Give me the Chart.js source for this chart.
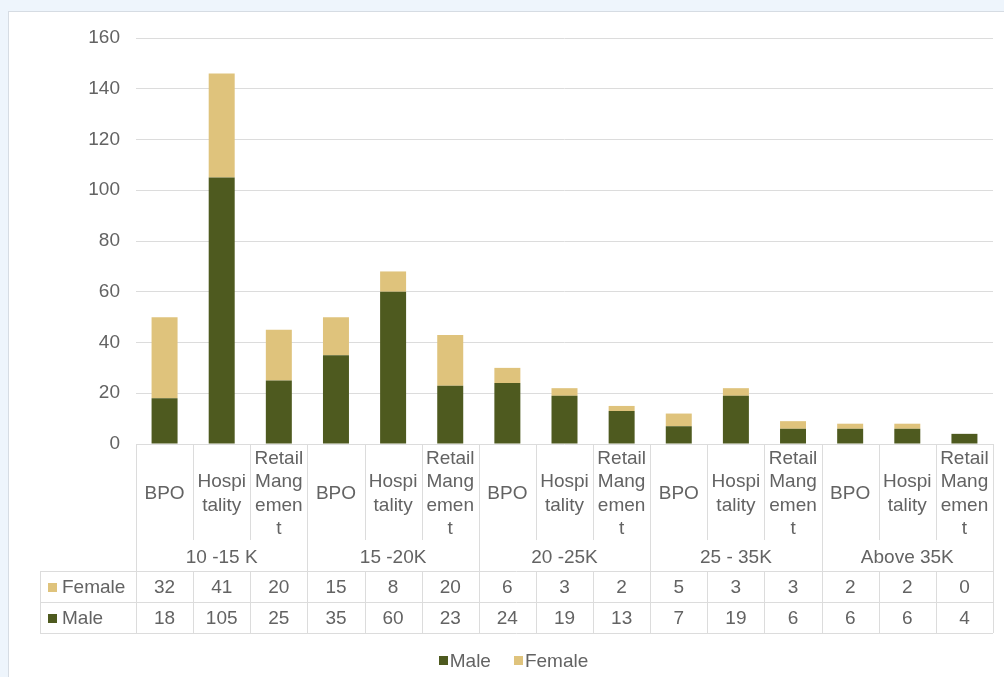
<!DOCTYPE html>
<html>
<head>
<meta charset="utf-8">
<title>Salary bands by sector and gender</title>
<script src="https://cdn.jsdelivr.net/npm/chart.js@4.4.1/dist/chart.umd.min.js"></script>
<style>
  html, body { margin: 0; padding: 0; width: 1004px; height: 677px; overflow: hidden; background: #eef5fc; }
  #card { position: absolute; left: 8px; top: 11px; width: 1100px; height: 800px; background: #ffffff;
          border: 1px solid #d6dce3; box-sizing: border-box; }
  #wrap { position: absolute; left: 0; top: 0; width: 1004px; height: 677px; }
</style>
</head>
<body>
<div id="card"></div>
<div id="wrap"><canvas id="chart" width="1004" height="677"></canvas></div>
<script>
// Salary bands (outer category) and sectors (inner category, wrapped as in the table)
const salaryBands = ['10 -15 K', '15 -20K', '20 -25K', '25 - 35K', 'Above 35K'];
const sectorLines = [['BPO'], ['Hospi', 'tality'], ['Retail', 'Mang', 'emen', 't']];

// Head counts, in band order, three sectors per band
const maleValues   = [18, 105, 25, 35, 60, 23, 24, 19, 13, 7, 19, 6, 6, 6, 4];
const femaleValues = [32, 41, 20, 15, 8, 20, 6, 3, 2, 5, 3, 3, 2, 2, 0];

// Value axis
const yMin = 0, yMax = 160, yStep = 20;

const MALE_COLOR = '#4e5a1f';
const FEMALE_COLOR = '#dfc37c';
const TEXT_COLOR = '#636363';
const LINE_COLOR = '#dcdcdc';
const FONT = '"Liberation Sans", Arial, sans-serif';
const FONT_SIZE = 19;

const labels = salaryBands.flatMap(band => sectorLines.map(s => [s.join(''), band]));

// Draws the data table under the bars and the legend at the bottom
const dataTablePlugin = {
  id: 'dataTable',
  afterDraw(chart) {
    const ctx = chart.ctx;
    const xs = chart.scales.x;
    const ca = chart.chartArea;
    const n = labels.length;
    const cw = (ca.right - ca.left) / n;
    const top = ca.bottom;
    const innerBottom = top + 96;
    const row1 = top + 127;
    const row2 = row1 + 31;
    const row3 = row2 + 31;
    const keyLeft = 40;
    const px = v => Math.round(v) + 0.5;

    ctx.save();
    ctx.strokeStyle = LINE_COLOR;
    ctx.lineWidth = 1;
    const line = (x1, y1, x2, y2) => {
      ctx.beginPath(); ctx.moveTo(x1, y1); ctx.lineTo(x2, y2); ctx.stroke();
    };
    // horizontal rules of the value rows
    [row1, row2, row3].forEach(y => line(keyLeft, px(y), ca.right, px(y)));
    line(px(keyLeft), row1, px(keyLeft), row3);
    // column rules
    for (let i = 0; i <= n; i++) {
      const xb = px(xs.getPixelForValue(0) - cw / 2 + i * cw);
      if (i % 3 === 0 || i === n) {
        line(xb, top, xb, row3);
      } else {
        line(xb, top, xb, innerBottom);
        line(xb, row1, xb, row3);
      }
    }

    ctx.fillStyle = TEXT_COLOR;
    ctx.font = FONT_SIZE + 'px ' + FONT;
    ctx.textAlign = 'center';
    ctx.textBaseline = 'middle';
    const lh = 23.5;
    const midY = top + 50;
    const female = chart.data.datasets[1];
    const male = chart.data.datasets[0];
    for (let i = 0; i < n; i++) {
      const cx = xs.getPixelForValue(i);
      const lines = sectorLines[i % 3];
      lines.forEach((t, k) => {
        ctx.fillText(t, cx, midY + (k - (lines.length - 1) / 2) * lh);
      });
      ctx.fillText(String(female.data[i]), cx, (row1 + row2) / 2 + 1);
      ctx.fillText(String(male.data[i]), cx, (row2 + row3) / 2 + 1);
    }
    salaryBands.forEach((band, g) => {
      const cx = xs.getPixelForValue(g * 3 + 1);
      ctx.fillText(band, cx, top + 114);
    });

    // series keys in the table
    ctx.textAlign = 'left';
    [[female, (row1 + row2) / 2], [male, (row2 + row3) / 2]].forEach(([ds, y]) => {
      ctx.fillStyle = ds.backgroundColor;
      ctx.fillRect(48, Math.round(y - 4), 9, 9);
      ctx.fillStyle = TEXT_COLOR;
      ctx.fillText(ds.label, 62, y + 1);
    });

    // legend
    const items = chart.data.datasets.map(ds => ({ ds, w: 10 + 2 + ctx.measureText(ds.label).width }));
    const gap = 22;
    const total = items.reduce((s, it) => s + it.w, 0) + gap * (items.length - 1);
    let lx = 514 - total / 2;
    const ly = 661;
    items.forEach(it => {
      ctx.fillStyle = it.ds.backgroundColor;
      ctx.fillRect(Math.round(lx), ly - 5, 9, 9);
      ctx.fillStyle = TEXT_COLOR;
      ctx.fillText(it.ds.label, lx + 11, ly + 1);
      lx += it.w + gap;
    });
    ctx.restore();
  }
};

new Chart(document.getElementById('chart'), {
  type: 'bar',
  data: {
    labels,
    datasets: [
      { label: 'Male', data: maleValues, backgroundColor: MALE_COLOR, stack: 'g' },
      { label: 'Female', data: femaleValues, backgroundColor: FEMALE_COLOR, stack: 'g' }
    ]
  },
  options: {
    responsive: false,
    animation: false,
    layout: { padding: { top: 38, right: 11, left: 0, bottom: 0 } },
    datasets: { bar: { categoryPercentage: 1, barPercentage: 0.455 } },
    scales: {
      x: {
        stacked: true,
        ticks: { display: false },
        grid: { display: false },
        border: { display: false },
        afterFit(s) { s.height = 233; }
      },
      y: {
        stacked: true,
        min: yMin,
        max: yMax,
        ticks: { stepSize: yStep, padding: 16, color: TEXT_COLOR, font: { family: FONT, size: FONT_SIZE } },
        grid: { color: LINE_COLOR, drawTicks: false },
        border: { display: false },
        afterFit(s) { s.width = 136; }
      }
    },
    plugins: {
      legend: { display: false },
      tooltip: { enabled: false }
    }
  },
  plugins: [dataTablePlugin]
});
</script>
</body>
</html>
